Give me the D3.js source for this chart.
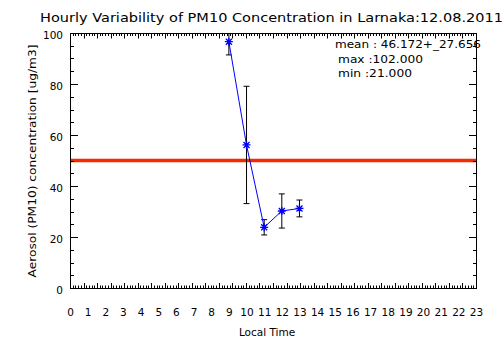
<!DOCTYPE html>
<html>
<head>
<meta charset="utf-8">
<script src="https://cdn.jsdelivr.net/npm/d3@7"></script>
<style>
  body { margin: 0; background: #fff; }
  text { font-family: "DejaVu Sans", sans-serif; fill: #000; }
</style>
</head>
<body>
<script>
  // hourly values
  const hours = [9, 10, 11, 12, 13];
  const meanValues = [96.6, 56.1, 23.8, 30.2, 31.2];
  const stdValues = [5.2, 23.0, 3.0, 6.7, 3.3];
  const limitValue = 50;
  const hourLabels = d3.range(0, 24);
  const yTickValues = [0, 20, 40, 60, 80, 100];
  const statLines = ['mean : 46.172+_27.656', 'max :102.000', 'min :21.000'];

  const width = 504;
  const height = 361;

  const svg = d3
    .select('body')
    .append('svg')
    .attr('width', width)
    .attr('height', height);

  const margin = { top: 33, right: 28, bottom: 73, left: 70 };
  const x = d3.scaleLinear().domain([0, 23]).range([margin.left, width - margin.right]);
  const y = d3.scaleLinear().domain([0, 100]).range([height - margin.bottom, margin.top]);

  svg.append('clipPath').attr('id', 'plotArea')
    .append('rect')
    .attr('x', x(0)).attr('y', y(100))
    .attr('width', x(23) - x(0)).attr('height', y(0) - y(100));

  // hour labels
  svg.append('g').attr('transform', `translate(0,${y(0)})`)
    .call(d3.axisBottom(x).tickValues(hourLabels).tickSize(0).tickPadding(21).tickFormat(d3.format('d')))
    .call((g) => {
      g.select('.domain').remove();
      g.selectAll('text').attr('font-size', 10.5).style('font-family', '"DejaVu Sans", sans-serif').attr('fill', '#000');
    });

  // y labels
  svg.append('g').attr('transform', `translate(${x(0)},2)`)
    .call(d3.axisLeft(y).tickValues(yTickValues).tickSize(0).tickPadding(7).tickFormat(d3.format('d')))
    .call((g) => {
      g.select('.domain').remove();
      g.selectAll('text').attr('font-size', 10.5).style('font-family', '"DejaVu Sans", sans-serif').attr('fill', '#000');
    });

  // 50 ug/m3 limit line
  svg.append('line')
    .attr('x1', x(0)).attr('x2', x(23))
    .attr('y1', y(limitValue)).attr('y2', y(limitValue))
    .attr('stroke', '#f52a00')
    .attr('stroke-width', 3.5);

  const plot = svg.append('g').attr('clip-path', 'url(#plotArea)');

  // error bars
  const bars = plot.selectAll('.errbar')
    .data(hours.map((h, i) => ({ h, m: meanValues[i], s: stdValues[i] })))
    .enter()
    .append('g')
    .attr('class', 'errbar')
    .attr('stroke', '#000')
    .attr('stroke-width', 1);
  bars.append('line')
    .attr('x1', (d) => x(d.h)).attr('x2', (d) => x(d.h))
    .attr('y1', (d) => y(d.m - d.s)).attr('y2', (d) => y(d.m + d.s));
  bars.append('line')
    .attr('x1', (d) => x(d.h) - 3).attr('x2', (d) => x(d.h) + 3)
    .attr('y1', (d) => y(d.m - d.s)).attr('y2', (d) => y(d.m - d.s));
  bars.append('line')
    .attr('x1', (d) => x(d.h) - 3).attr('x2', (d) => x(d.h) + 3)
    .attr('y1', (d) => y(d.m + d.s)).attr('y2', (d) => y(d.m + d.s));

  // line + asterisks
  const line = d3.line().x((d, i) => x(hours[i])).y((d) => y(d));
  plot.append('path')
    .datum(meanValues)
    .attr('d', line)
    .attr('fill', 'none')
    .attr('stroke', '#0000ff')
    .attr('stroke-width', 1);

  const star = 'M-4,0L4,0M0,-4L0,4M-3,-3L3,3M-3,3L3,-3';
  plot.selectAll('.star')
    .data(meanValues)
    .enter()
    .append('path')
    .attr('class', 'star')
    .attr('transform', (d, i) => `translate(${x(hours[i])},${y(d)})`)
    .attr('d', star)
    .attr('stroke', '#0000ff')
    .attr('stroke-width', 1.3);

  // stats
  const statX = [335, 338, 338];
  const statLen = [146, 85, 74];
  svg.selectAll('.stat')
    .data(statLines)
    .enter()
    .append('text')
    .attr('class', 'stat')
    .attr('x', (d, i) => statX[i])
    .attr('y', (d, i) => 48 + i * 14.5)
    .attr('font-size', 10)
    .attr('textLength', (d, i) => statLen[i])
    .attr('lengthAdjust', 'spacingAndGlyphs')
    .text((d) => d);

  // titles
  svg.append('text')
    .attr('x', 40).attr('y', 22)
    .attr('font-size', 13)
    .attr('textLength', 463)
    .attr('lengthAdjust', 'spacingAndGlyphs')
    .text('Hourly Variability of PM10 Concentration in Larnaka:12.08.2011');

  svg.append('text')
    .attr('x', 267).attr('y', 336)
    .attr('text-anchor', 'middle')
    .attr('font-size', 10.5)
    .text('Local Time');

  svg.append('text')
    .attr('transform', `translate(36,${161}) rotate(-90)`)
    .attr('text-anchor', 'middle')
    .attr('font-size', 10.5)
    .attr('textLength', 233)
    .attr('lengthAdjust', 'spacingAndGlyphs')
    .text('Aerosol (PM10) concentration [ug/m3]');

  // frame and tick marks, drawn last so nothing sits over them
  svg.append('rect')
    .attr('x', x(0) + 0.5).attr('y', y(100) + 0.5)
    .attr('width', x(23) - x(0)).attr('height', y(0) - y(100))
    .attr('fill', 'none')
    .attr('stroke', '#000');

  // x: 30 major intervals with 5 minor each; y: majors every 20, minors every 5
  const xMajor = d3.range(0, 31).map((i) => (i * 23) / 30);
  const xMinor = d3.range(0, 151).map((i) => (i * 23) / 150);
  const yMinor = d3.range(0, 101, 5);

  const tickGroup = svg.append('g');
  const xTick = (cls, vals, base, end) => tickGroup.selectAll(`line.${cls}`)
    .data(vals).enter().append('line').attr('class', cls)
    .attr('x1', (d) => Math.round(x(d)) + 0.5).attr('x2', (d) => Math.round(x(d)) + 0.5)
    .attr('y1', base).attr('y2', end)
    .attr('stroke', '#000').attr('stroke-width', 1);
  const yTick = (cls, vals, base, end) => tickGroup.selectAll(`line.${cls}`)
    .data(vals).enter().append('line').attr('class', cls)
    .attr('y1', (d) => Math.round(y(d)) + 0.5).attr('y2', (d) => Math.round(y(d)) + 0.5)
    .attr('x1', base).attr('x2', end)
    .attr('stroke', '#000').attr('stroke-width', 1);

  xTick('xminb', xMinor, y(0), y(0) - 2.5);
  xTick('xmajb', xMajor, y(0), y(0) - 5);
  xTick('xmint', xMinor, y(100), y(100) + 3);
  xTick('xmajt', xMajor, y(100), y(100) + 5.5);
  yTick('yminl', yMinor, x(0), x(0) + 4);
  yTick('ymajl', yTickValues, x(0), x(0) + 8);
  yTick('yminr', yMinor, x(23) + 1, x(23) - 3);
  yTick('ymajr', yTickValues, x(23) + 1, x(23) - 7);
</script>
</body>
</html>
